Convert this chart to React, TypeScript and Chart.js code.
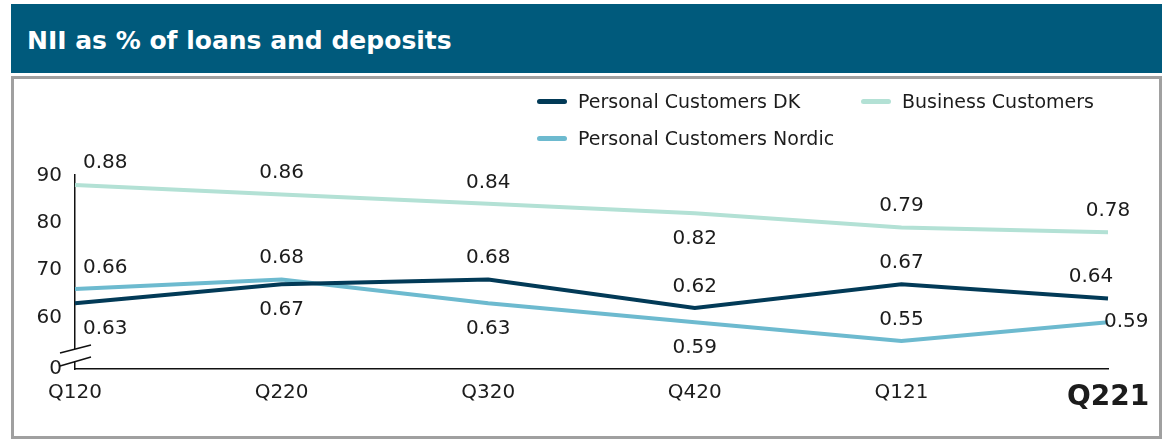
import React, { useEffect, useRef } from 'react';
import { Chart, registerables } from 'chart.js';

Chart.register(...registerables);

const categories = ['Q120', 'Q220', 'Q320', 'Q420', 'Q121', 'Q221'];
const personalCustomersDK = [0.63, 0.67, 0.68, 0.62, 0.67, 0.64];
const businessCustomers = [0.88, 0.86, 0.84, 0.82, 0.79, 0.78];
const personalCustomersNordic = [0.66, 0.68, 0.63, 0.59, 0.55, 0.59];
const yTickValues = [60, 70, 80, 90];
const yBreakTickLabel = '0';

const FONT = "'DejaVu Sans', sans-serif";
const TEXT = '#1c1c1c';
const C_DK = '#023a57';
const C_BUS = '#b3e1d5';
const C_NOR = '#6dbacf';
const HEADER = '#005a7c';

const Y_MIN = 49.1;
const Y_MAX = 90.1;

// label placement styles per series (A = above, B = below)
type Place = { dx: number; dy: number; align: CanvasTextAlign };
const A: Place = { dx: 0, dy: -21.5, align: 'center' };
const B: Place = { dx: 0, dy: 25.5, align: 'center' };
const placeDK: Place[] = [{ dx: 8, dy: 25.5, align: 'left' }, B, A, A, A, { dx: -17, dy: -21.5, align: 'center' }];
const placeBus: Place[] = [{ dx: 8, dy: -22, align: 'left' }, A, A, B, A, A];
const placeNor: Place[] = [{ dx: 8, dy: -21.5, align: 'left' }, A, B, B, A, { dx: -4, dy: 0, align: 'left' }];

const dataLabelPlugin = {
  id: 'dataLabels',
  afterDatasetsDraw(chart: any) {
    const ctx = chart.ctx;
    ctx.save();
    ctx.font = `20px ${FONT}`;
    ctx.fillStyle = TEXT;
    ctx.textBaseline = 'middle';
    chart.data.datasets.forEach((ds: any, di: number) => {
      const meta = chart.getDatasetMeta(di);
      const places: Place[] = ds.labelPlaces;
      meta.data.forEach((pt: any, i: number) => {
        const p = places[i];
        ctx.textAlign = p.align;
        ctx.fillText((ds.data[i] / 100).toFixed(2), pt.x + p.dx, pt.y + p.dy);
      });
    });
    ctx.restore();
  },
};

const axisBreakPlugin = {
  id: 'axisBreak',
  afterDraw(chart: any) {
    const { ctx, chartArea } = chart;
    const l = chartArea.left;
    const b = chartArea.bottom;
    ctx.save();
    ctx.fillStyle = '#ffffff';
    ctx.fillRect(l - 2, b - 20, 4, 12);
    ctx.strokeStyle = '#111111';
    ctx.lineWidth = 1.5;
    ctx.beginPath();
    ctx.moveTo(l - 15, b - 16);
    ctx.lineTo(l + 16, b - 24);
    ctx.moveTo(l - 15, b - 3);
    ctx.lineTo(l + 16, b - 12);
    ctx.stroke();
    ctx.restore();
  },
};

function LegendItem({ left, top, color, label }: { left: number; top: number; color: string; label: string }) {
  return (
    <div style={{ position: 'absolute', left, top, height: 24, display: 'flex', alignItems: 'center' }}>
      <div style={{ width: 30, height: 5, borderRadius: 3, background: color, marginRight: 11 }} />
      <span style={{ font: `19px ${FONT}`, color: TEXT, whiteSpace: 'nowrap' }}>{label}</span>
    </div>
  );
}

export default function App() {
  const canvasRef = useRef<HTMLCanvasElement | null>(null);

  useEffect(() => {
    if (!canvasRef.current) return;
    const chart = new Chart(canvasRef.current, {
      type: 'line',
      data: {
        labels: categories,
        datasets: [
          {
            label: 'Personal Customers DK',
            data: personalCustomersDK.map((v) => v * 100),
            borderColor: C_DK,
            backgroundColor: C_DK,
            borderWidth: 4,
            pointRadius: 0,
            tension: 0,
            order: 0,
            labelPlaces: placeDK,
          } as any,
          {
            label: 'Business Customers',
            data: businessCustomers.map((v) => v * 100),
            borderColor: C_BUS,
            backgroundColor: C_BUS,
            borderWidth: 4,
            pointRadius: 0,
            tension: 0,
            order: 2,
            labelPlaces: placeBus,
          } as any,
          {
            label: 'Personal Customers Nordic',
            data: personalCustomersNordic.map((v) => v * 100),
            borderColor: C_NOR,
            backgroundColor: C_NOR,
            borderWidth: 4,
            pointRadius: 0,
            tension: 0,
            order: 1,
            labelPlaces: placeNor,
          } as any,
        ],
      },
      options: {
        responsive: false,
        animation: false,
        layout: { padding: { top: 175, right: 57, left: 0, bottom: 0 } },
        plugins: { legend: { display: false }, tooltip: { enabled: false }, title: { display: false } },
        scales: {
          x: {
            offset: false,
            grid: { display: false, drawTicks: false },
            border: { display: true, color: '#111111', width: 1.5 },
            afterFit: (s: any) => {
              s.height = 72;
            },
            ticks: {
              padding: 12,
              maxRotation: 0,
              autoSkip: false,
              color: TEXT,
              font: (c: any) =>
                c.index === categories.length - 1
                  ? { family: FONT, size: 28, weight: 'bold' }
                  : { family: FONT, size: 20 },
            },
          },
          y: {
            min: Y_MIN,
            max: Y_MAX,
            grid: { display: false, drawTicks: false },
            border: { display: true, color: '#111111', width: 1.5 },
            afterFit: (s: any) => {
              s.width = 75;
            },
            afterBuildTicks: (s: any) => {
              s.ticks = [Y_MIN, ...yTickValues].map((value) => ({ value }));
            },
            ticks: {
              padding: 13,
              color: TEXT,
              font: { family: FONT, size: 20 },
              callback: (v: any) => (Number(v) < yTickValues[0] - 5 ? yBreakTickLabel : String(v)),
            },
          },
        },
      },
      plugins: [dataLabelPlugin, axisBreakPlugin],
    } as any);
    return () => chart.destroy();
  }, []);

  return (
    <div style={{ position: 'fixed', left: 0, top: 0, width: 1165, height: 441, background: '#ffffff', overflow: 'hidden' }}>
      <div
        style={{
          position: 'absolute',
          left: 11,
          top: 4,
          width: 1151,
          height: 69,
          background: HEADER,
        }}
      >
        <div
          style={{
            position: 'absolute',
            left: 16,
            top: 0,
            height: 72,
            display: 'flex',
            alignItems: 'center',
            color: '#ffffff',
            font: `bold 25px ${FONT}`,
            whiteSpace: 'nowrap',
          }}
        >
          NII as % of loans and deposits
        </div>
      </div>
      <div
        style={{
          position: 'absolute',
          left: 11,
          top: 76,
          width: 1151,
          height: 363,
          boxSizing: 'border-box',
          border: '3px solid #a0a0a0',
        }}
      />
      <canvas ref={canvasRef} width={1165} height={441} style={{ position: 'absolute', left: 0, top: 0, width: 1165, height: 441 }} />
      <LegendItem left={537} top={89} color={C_DK} label="Personal Customers DK" />
      <LegendItem left={861} top={89} color={C_BUS} label="Business Customers" />
      <LegendItem left={537} top={126} color={C_NOR} label="Personal Customers Nordic" />
    </div>
  );
}
